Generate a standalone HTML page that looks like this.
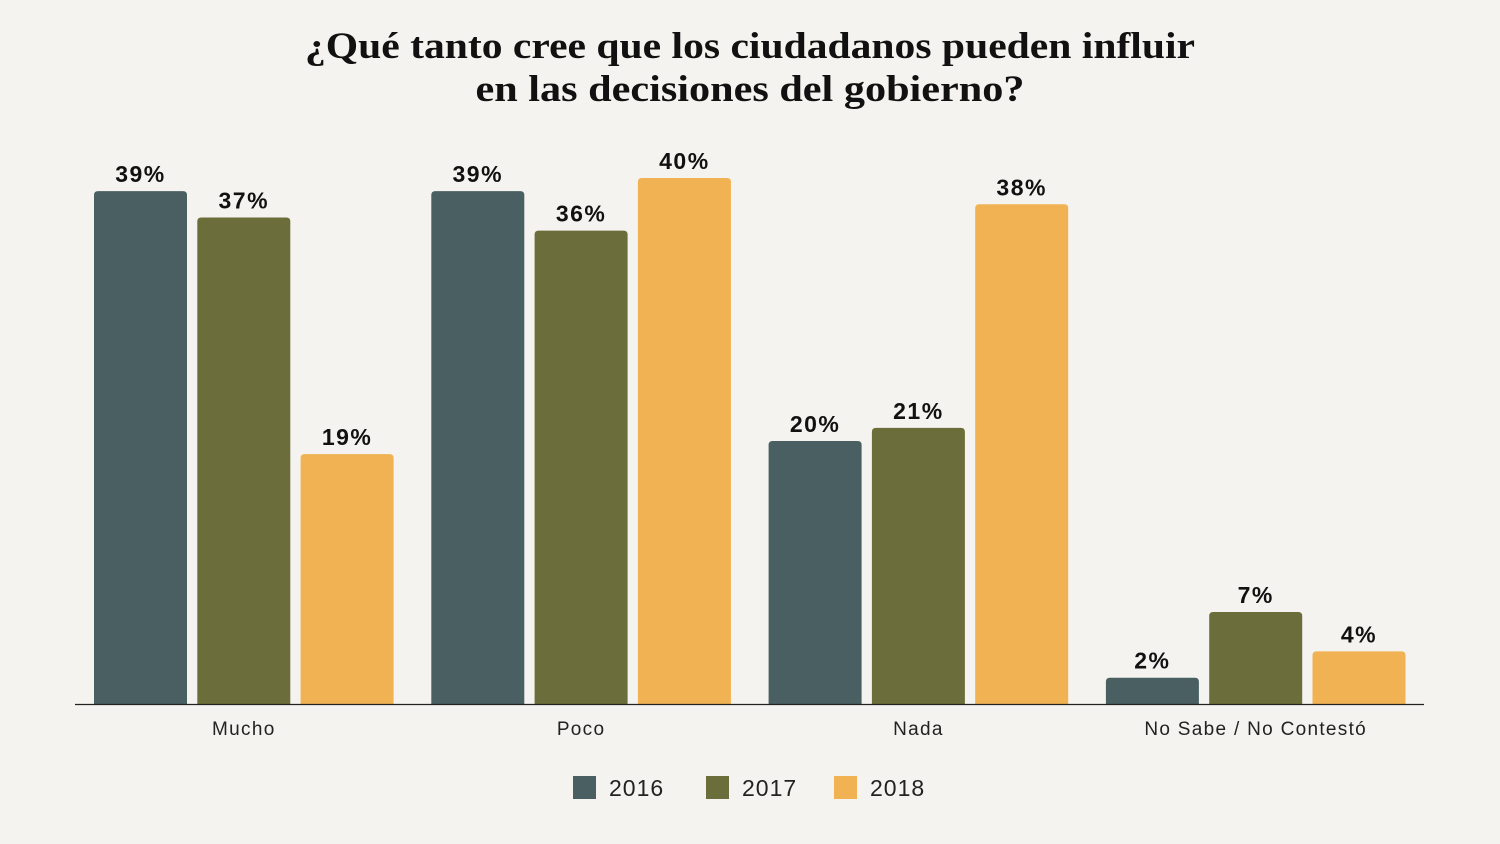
<!DOCTYPE html>
<html><head><meta charset="utf-8"><style>
body{margin:0;background:#f5f3ef;}
svg{display:block;}
</style></head><body>
<svg id="chart" width="1500" height="844" xmlns="http://www.w3.org/2000/svg">
<rect width="1500" height="844" fill="#f5f3ef"/>
<text x="750" y="58" text-anchor="middle" font-family="Liberation Serif, serif" font-weight="bold" font-size="37" fill="#111" textLength="890" lengthAdjust="spacingAndGlyphs">¿Qué tanto cree que los ciudadanos pueden influir</text>
<text x="750" y="101" text-anchor="middle" font-family="Liberation Serif, serif" font-weight="bold" font-size="37" fill="#111" textLength="549" lengthAdjust="spacingAndGlyphs">en las decisiones del gobierno?</text>
<g id="bars"></g>
<line x1="75" y1="704.5" x2="1424" y2="704.5" stroke="#222" stroke-width="1.2"/>
<g id="labels"></g>
<g id="legend"></g>
</svg>
<script>
const categories = ["Mucho","Poco","Nada","No Sabe / No Contestó"];
const years = ["2016","2017","2018"];
const values2016 = [39,39,20,2];
const values2017 = [37,36,21,7];
const values2018 = [19,40,38,4];
const series = [values2016, values2017, values2018];
const colors = ["#4a5f61","#6b6e3a","#f0b252"];
const NS = "http://www.w3.org/2000/svg";
const baseY = 704, pxPer = 13.15;
const groupStart = 94, groupStride = 337.3, barW = 93, barGap = 10.3;
function yScale(v){ return baseY - v*pxPer; }
function xBar(ci, si){ return groupStart + ci*groupStride + si*(barW+barGap); }
const bars = document.getElementById('bars');
const labels = document.getElementById('labels');
categories.forEach((c, ci) => {
  series.forEach((vals, si) => {
    const x = xBar(ci, si), y = yScale(vals[ci]), r = 4;
    const p = document.createElementNS(NS, 'path');
    p.setAttribute('d', `M${x},${baseY} V${y+r} Q${x},${y} ${x+r},${y} H${x+barW-r} Q${x+barW},${y} ${x+barW},${y+r} V${baseY} Z`);
    p.setAttribute('fill', colors[si]);
    
    
    bars.appendChild(p);
    const t = document.createElementNS(NS, 'text');
    t.setAttribute('x', x + barW/2);
    t.setAttribute('y', y - 9);
    t.setAttribute('text-anchor', 'middle');
    t.setAttribute('font-family', 'Liberation Sans, sans-serif');
    t.setAttribute('font-weight', 'bold');
    t.setAttribute('font-size', '23');
    t.setAttribute('letter-spacing', '1.5');
    t.setAttribute('fill', '#111');
    t.textContent = vals[ci] + '%';
    
    
    labels.appendChild(t);
  });
  const cl = document.createElementNS(NS, 'text');
  cl.setAttribute('x', xBar(ci, 1) + barW/2);
  cl.setAttribute('y', 735);
  cl.setAttribute('text-anchor', 'middle');
  cl.setAttribute('font-family', 'Liberation Sans, sans-serif');
  cl.setAttribute('font-size', '19');
  cl.setAttribute('letter-spacing', '1.3');
  cl.setAttribute('fill', '#222');
  cl.textContent = c;
  
  
  labels.appendChild(cl);
});
const legend = document.getElementById('legend');
const legX = [573, 706, 834];
years.forEach((yr, i) => {
  const r = document.createElementNS(NS, 'rect');
  r.setAttribute('x', legX[i]); r.setAttribute('y', 776);
  r.setAttribute('width', 23); r.setAttribute('height', 23);
  r.setAttribute('fill', colors[i]);
  
  
  legend.appendChild(r);
  const t = document.createElementNS(NS, 'text');
  t.setAttribute('x', legX[i] + 36); t.setAttribute('y', 796);
  t.setAttribute('font-family', 'Liberation Sans, sans-serif');
  t.setAttribute('font-size', '23');
  t.setAttribute('letter-spacing', '1');
  t.setAttribute('fill', '#222');
  t.textContent = yr;
  
  
  legend.appendChild(t);
});
</script>
</body></html>
